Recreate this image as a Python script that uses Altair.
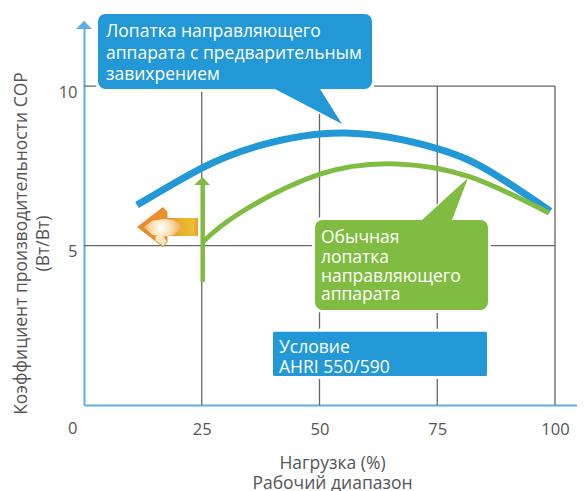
import altair as alt
import pandas as pd

FONT = "Open Sans"
BLUE = "#2299D6"
GREEN = "#80BC41"
AXIS = "#5AB0E0"
GRID = "#666666"
TEXT = "#555555"

# curves
blue_x = [11.25, 25, 37.4, 55.4, 75, 86.8, 99]
blue_y = [6.27, 7.43, 8.14, 8.53, 8.04, 7.27, 6.08]
green_x = [25.2, 33.1, 50.1, 66.5, 82, 98.7]
green_y = [5.11, 6.02, 7.24, 7.56, 7.15, 6.02]

# reference lines
grid_x = [25, 50, 75, 100]
grid_y = [5, 10]

# callout boxes: x, x2, y, y2, colour, corner
boxes = [
    (2.65, 61.47, 12.31, 9.86, BLUE, 9),
    (48.72, 86.09, 5.85, 2.93, GREEN, 9),
    (39.81, 85.88, 2.34, 0.86, BLUE, 3),
]
# callout tails: x, y, y2
tail_blue = [(40.55, 9.91, 9.91), (50.1, 9.91, 9.17), (54.78, 8.81, 8.81)]
tail_green = [(71.76, 5.80, 5.80), (78.13, 6.66, 5.80), (81.53, 7.12, 7.12)]

# arrows
y_head = [(-1.7, 11.79, 11.79), (0, 12.04, 11.79), (1.7, 11.79, 11.79)]
green_shaft = [(25.2, 3.86, 6.93)]
green_head = [(23.35, 6.90, 6.90), (25.16, 7.15, 6.90), (26.75, 6.90, 6.90)]
orange = [(11.25, 5.58, 5.58), (16.77, 6.21, 4.95), (17.73, 6.05, 5.11),
          (17.73, 5.86, 5.30), (24.2, 5.86, 5.30)]
glow = [(12.7, 5.58, 5.58), (14.5, 5.78, 5.33), (17.0, 5.83, 5.28),
        (19.0, 5.80, 5.33), (20.9, 5.62, 5.56)]
barb = [(15.2, 5.30, 5.16), (16.77, 5.30, 4.99), (17.5, 5.15, 5.11)]

# texts
labels = [
    (4.67, 11.54, "Лопатка направляющего"),
    (4.67, 10.85, "аппарата с предварительным"),
    (4.67, 10.18, "завихрением"),
    (50.3, 5.08, "Обычная"),
    (50.3, 4.45, "лопатка"),
    (50.3, 3.86, "направляющего"),
    (50.3, 3.29, "аппарата"),
    (41.4, 1.63, "Условие"),
    (41.4, 1.00, "AHRI 550/590"),
]

xs = alt.Scale(domain=[0, 104.67], nice=False, zero=False)
ys = alt.Scale(domain=[0, 12.04], nice=False, zero=False)

x_axis = alt.Axis(
    values=[25, 50, 75, 100], title=["Нагрузка (%)", "Рабочий диапазон"],
    grid=False, ticks=False, domainColor=AXIS, domainWidth=2,
    labelFont=FONT, labelFontSize=16.5, labelColor=TEXT, labelPadding=16, labelFlush=False,
    titleFont=FONT, titleFontSize=17.5, titleColor=TEXT, titleFontWeight="normal",
    titleX=248, titleY=49, titleLineHeight=20, titleAlign="center")
y_axis = alt.Axis(
    values=[5, 10], title=["Коэффициент производительности COP", "(Вт/Вт)"],
    grid=False, ticks=False, domainColor=AXIS, domainWidth=2,
    labelFont=FONT, labelFontSize=16.5, labelColor=TEXT, labelPadding=7, labelOffset=6,
    titleFont=FONT, titleFontSize=17.5, titleColor=TEXT, titleFontWeight="normal",
    titleX=-54, titleY=222, titleLineHeight=22, titleAlign="center")


def X(f="x"):
    return alt.X(f"{f}:Q", scale=xs, axis=x_axis, stack=False)


def Y(f="y"):
    return alt.Y(f"{f}:Q", scale=ys, axis=y_axis, stack=False)


def poly(rows, fill, stroke=None, sw=0):
    d = pd.DataFrame(rows, columns=["x", "y", "y2"])
    kw = {"stroke": stroke, "strokeWidth": sw} if stroke else {}
    return alt.Chart(d).mark_area(fill=fill, opacity=1, **kw).encode(
        x=X(), y=Y(), y2=alt.Y2("y2"))


zero = alt.Chart(pd.DataFrame({"x": [-2.4], "y": [-0.76], "t": ["0"]})).mark_text(
    font=FONT, fontSize=16.5, color=TEXT, align="center", baseline="middle").encode(
    x=X(), y=Y(), text="t:N")

vgrid = alt.Chart(pd.DataFrame({"x": grid_x, "y": [0] * 4, "y2": [10] * 4})).mark_rule(
    color=GRID, strokeWidth=1.3).encode(x=X(), y=Y(), y2="y2:Q")
hgrid = alt.Chart(pd.DataFrame({"y": grid_y, "x": [0, 0], "x2": [100, 100]})).mark_rule(
    color=GRID, strokeWidth=1.3).encode(y=Y(), x=X(), x2="x2:Q")

blue_line = alt.Chart(pd.DataFrame({"x": blue_x, "y": blue_y})).mark_line(
    color=BLUE, strokeWidth=7, interpolate="natural", strokeCap="butt").encode(x=X(), y=Y())
green_line = alt.Chart(pd.DataFrame({"x": green_x, "y": green_y})).mark_line(
    color=GREEN, strokeWidth=5, interpolate="natural", strokeCap="butt").encode(x=X(), y=Y())

box_df = pd.DataFrame(boxes, columns=["x", "x2", "y", "y2", "c", "r"])
box_layers = [
    alt.Chart(box_df.iloc[[i]]).mark_rect(
        color=box_df.c[i], cornerRadius=int(box_df.r[i]), stroke="white", strokeWidth=3
    ).encode(x=X(), x2="x2:Q", y=Y(), y2="y2:Q")
    for i in range(3)
]

shaft = alt.Chart(pd.DataFrame(green_shaft, columns=["x", "y", "y2"])).mark_rule(
    color=GREEN, strokeWidth=4.5).encode(x=X(), y=Y(), y2="y2:Q")

orange_fill = alt.Gradient(
    gradient="linear", x1=0, x2=1, y1=0, y2=0,
    stops=[alt.GradientStop(offset=0, color="#E98B2E"),
           alt.GradientStop(offset=0.5, color="#EA9030"),
           alt.GradientStop(offset=0.72, color="#E8B02E"),
           alt.GradientStop(offset=0.92, color="#E9C030"),
           alt.GradientStop(offset=1, color="#E8973A")])
glow_fill = alt.Gradient(
    gradient="radial", x1=0.45, y1=0.5, r1=0, x2=0.45, y2=0.5, r2=0.6,
    stops=[alt.GradientStop(offset=0, color="#FFFFFF"),
           alt.GradientStop(offset=0.4, color="#FCE4B8"),
           alt.GradientStop(offset=1, color="#EC9436")])

text_df = pd.DataFrame(labels, columns=["x", "y", "t"])
texts = alt.Chart(text_df).mark_text(
    font=FONT, fontSize=17.5, color="white", align="left", baseline="alphabetic").encode(
    x=X(), y=Y(), text="t:N")

chart = alt.layer(
    vgrid, hgrid,
    poly(tail_blue, "white", "white", 3),
    poly(tail_green, "white", "white", 3),
    blue_line, green_line,
    *box_layers,
    poly(tail_blue, BLUE),
    poly(tail_green, GREEN),
    poly(y_head, AXIS),
    shaft,
    poly(green_head, GREEN),
    poly(orange, orange_fill),
    poly(glow, glow_fill),
    poly(barb, "#FBE8C0"),
    zero,
    texts,
).properties(
    width=493, height=384,
    autosize=alt.AutoSizeParams(type="none"),
    padding={"left": 76, "top": 13, "right": 0, "bottom": 86},
).configure_view(stroke=None)

chart.save("out.html", embed_options={"renderer": "svg", "actions": False})
